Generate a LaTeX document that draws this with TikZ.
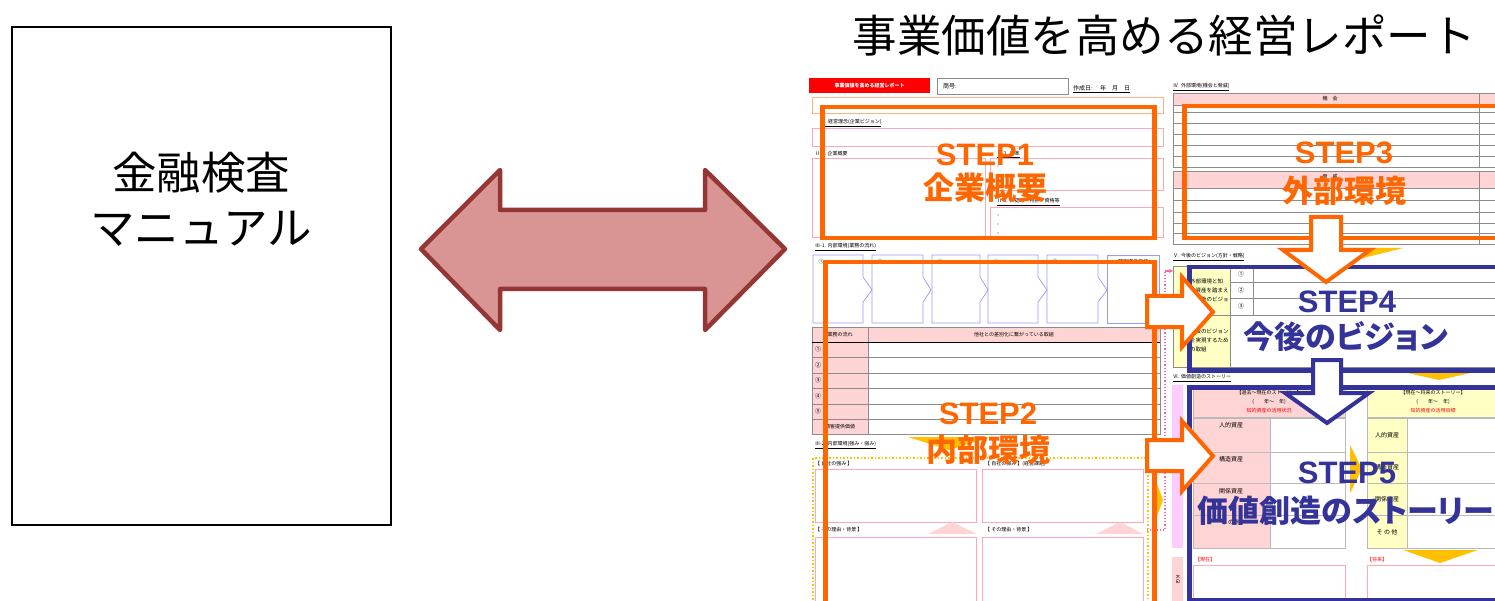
\documentclass[tikz,border=0pt]{standalone}
\usepackage{fontspec}
\setmainfont{Liberation Sans}
\newfontfamily\jp{Noto Sans CJK JP}
\newfontfamily\jpp[RawFeature=+palt]{Noto Sans CJK JP}
\usetikzlibrary{arrows.meta}
\definecolor{stepor}{HTML}{FF6600}
\definecolor{stepbl}{HTML}{333399}
\definecolor{arrfill}{HTML}{D99594}
\definecolor{arrline}{HTML}{943634}
\definecolor{pinkfill}{HTML}{FFD4D4}
\definecolor{pinkline}{HTML}{FFA6B8}
\definecolor{chev}{HTML}{9999FF}
\definecolor{gold}{HTML}{FFC000}
\definecolor{yelfill}{HTML}{FFFFC4}
\definecolor{magfill}{HTML}{FFCCFF}
\definecolor{grayline}{HTML}{8C8C8C}
\definecolor{dotpink}{HTML}{FF6699}
\tikzset{
  tiny/.style={font=\jp\fontsize{5}{6}\selectfont, inner sep=0pt},
  tinyw/.style={tiny, anchor=west},
  pbox/.style={draw=pinkline, line width=0.6pt},
  gline/.style={draw=grayline, line width=0.6pt},
  orbox/.style={draw=stepor, line width=4.5pt},
  blbox/.style={draw=stepbl, line width=4.5pt},
  orarrow/.style={fill=white, draw=stepor, line width=4pt, line join=miter},
  blarrow/.style={fill=white, draw=stepbl, line width=4pt, line join=miter},
  steplat/.style={font=\bfseries\fontsize{31}{34}\selectfont, inner sep=0pt},
  stepjp/.style={font=\jp\bfseries\fontsize{31}{34}\selectfont, inner sep=0pt},
  stepjpp/.style={font=\jpp\bfseries\fontsize{31}{34}\selectfont, inner sep=0pt},
  bigjp/.style={font=\jp\fontsize{44.5}{50}\selectfont, inner sep=0pt},
}
\begin{document}
\begin{tikzpicture}[x=1pt,y=-1pt]
\useasboundingbox (0,0) rectangle (1495,601);
\fill[white] (0,0) rectangle (1495,601);

% ---------- left box ----------
\node[draw=black, line width=1.6pt, minimum width=379pt, minimum height=498pt, inner sep=0pt] (fsa) at (201.5,276) {};
\node[bigjp] (fsa1) at (201,173) {金融検査};
\node[bigjp] (fsa2) at (201,229) {マニュアル};

% ---------- double arrow ----------
\draw[fill=arrfill, draw=arrline, line width=4.5pt, line join=round]
  (421,249) -- (500,170) -- (500,210) -- (705,210) -- (705,170) -- (785,249)
  -- (705,330) -- (705,289) -- (500,289) -- (500,330) -- cycle;

% ---------- title ----------
\node[bigjp] (title) at (1164,35) {事業価値を高める経営レポート};

% ---------- form (background) ----------
\begin{scope}
\clip (805,72) rectangle (1495,601);

% header
\node[fill=red, minimum width=121pt, minimum height=15pt, inner sep=0pt, anchor=north west] (redlab) at (809,78) {};
\node[tiny, text=white, font=\jp\bfseries\fontsize{5}{6}\selectfont] at (redlab.center) {事業価値を高める経営レポート};
\node[draw=grayline, line width=0.8pt, minimum width=131pt, minimum height=16pt, inner sep=0pt, anchor=north west] (shogo) at (937,78) {};
\node[tinyw, font=\jp\fontsize{6}{7}\selectfont] at (943,86) {商号:};
\node[tinyw, font=\jp\fontsize{6}{7}\selectfont] at (1073,89) {\underline{作成日:　\ 年　月　日}};

% section I / II
\draw[pbox, draw=stepor!50] (812,97) rectangle (1163,113);
\node[tinyw] at (820,123) {\underline{Ⅰ. 経営理念(企業ビジョン)}};
\draw[pbox] (812,128) rectangle (1163,146);
\node[tinyw] at (815,155) {\underline{Ⅱ-1. 企業概要}};
\node[tinyw] at (997,155) {\underline{Ⅱ-2. 沿革}};
\draw[pbox] (812,158) rectangle (985,237);
\draw[pbox] (990,158) rectangle (1163,190);
\node[tinyw] at (997,202) {\underline{Ⅱ-3. 許認可・特許・資格等}};
\draw[pbox] (990,207) rectangle (1163,237);
\foreach \yy in {166,176,186,215,224,233} \fill[black!70] (998,\yy) circle (0.7);

% section III-1
\node[tinyw] at (815,247) {\underline{Ⅲ-1. 内部環境(業務の流れ)}};
\foreach \xl/\xr/\xp/\lab in {813/863/872/①, 872/923/931/②, 932/980/988/③, 988/1038/1047/④, 1047/1098/1107/⑤}{
  \draw[draw=chev, line width=0.7pt] (\xl,255) -- (\xr,255) -- (\xr,277) -- (\xp,290) -- (\xr,302) -- (\xr,323) -- (\xl,323) -- cycle;
  \node[tiny] at (\xl+8,262) {\lab};
}
\draw[draw=chev, line width=0.7pt] (1107,255) rectangle (1159,323);
\node[tiny] at (1133,262) {顧客提供価値};

% table
\fill[pinkfill] (812,327) rectangle (1160,342);
\fill[pinkfill] (812,342) rectangle (868,434);
\draw[gline] (812,327) rectangle (1160,434);
\draw[gline] (868,327) -- (868,434);
\draw[black, line width=0.9pt] (812,342) -- (1160,342);
\foreach \yy in {357,373,388,404,419} \draw[gline] (812,\yy) -- (1160,\yy);
\node[tiny] at (840,335) {業務の流れ};
\node[tiny] at (1014,335) {他社との差別化に繋がっている取組};
\foreach \yy/\lab in {349.5/①, 365/②, 380.5/③, 396/④, 411.5/⑤}
  \node[tiny, font=\jp\fontsize{6}{7}\selectfont] at (818,\yy) {\lab};
\node[tiny] at (840,427) {顧客提供価値};

\fill[gold] (908,437) -- (990,437) -- (949,450) -- cycle;

% section III-2
\node[tinyw] at (815,445) {\underline{Ⅲ-2. 内部環境(強み・弱み)}};
\draw[draw=gold, line width=1.5pt, dotted] (813,458) rectangle (1148,620);
\node[tinyw] at (815,464) {【 自社の強み 】};
\node[tinyw] at (985,464) {【 自社の弱み 】(経営課題)};
\draw[pbox] (815,469) rectangle (976,522);
\draw[pbox] (982,469) rectangle (1143,522);
\fill[pinkfill] (928,534) -- (952,522) -- (977,534) -- cycle;
\fill[pinkfill] (1096,534) -- (1120,522) -- (1143,534) -- cycle;
\node[tinyw] at (815,530) {【 その理由・背景 】};
\node[tinyw] at (985,530) {【 その理由・背景 】};
\draw[pbox] (815,537) rectangle (976,620);
\draw[pbox] (982,537) rectangle (1143,620);
\fill[gold] (1153,473) -- (1163,500) -- (1153,527) -- cycle;

\draw[draw=dotpink, line width=1.2pt, dotted] (1147,530) -- (1165,530) -- (1165,271);
\draw[draw=dotpink, line width=1.2pt, -{Stealth[length=4pt,width=4pt]}] (1165,271) -- (1173,271);

% section IV
\node[tinyw] at (1173,87) {\underline{Ⅳ. 外部環境(機会と脅威)}};
\fill[pinkfill] (1173,93) rectangle (1500,105);
\draw[gline] (1173,93) rectangle (1500,167);
\draw[gline] (1479,93) -- (1479,167);
\foreach \yy in {105,112,123,134,145,156} \draw[gline] (1173,\yy) -- (1500,\yy);
\node[tiny] at (1330,99) {機　会};
\fill[pinkfill] (1173,171) rectangle (1500,188);
\draw[gline] (1173,171) rectangle (1500,244);
\draw[gline] (1479,171) -- (1479,244);
\foreach \yy in {188,200,212,223,233} \draw[gline] (1173,\yy) -- (1500,\yy);
\node[tiny] at (1330,177) {脅　威};

\fill[gold] (1290,248) -- (1403,248) -- (1347,262) -- cycle;

% section V
\node[tinyw] at (1173,257) {\underline{Ⅴ. 今後のビジョン(方針・戦略)}};
\fill[yelfill] (1173,266) rectangle (1230,367);
\draw[gline] (1173,266) rectangle (1500,367);
\draw[gline] (1187,266) -- (1187,367);
\draw[gline] (1230,266) -- (1230,367);
\draw[gline] (1253,266) -- (1253,315);
\draw[gline] (1230,282) -- (1500,282);
\draw[gline] (1230,298) -- (1500,298);
\draw[gline] (1173,315) -- (1500,315);
\node[tiny, align=left, anchor=west, font=\jp\fontsize{5.5}{9}\selectfont] at (1190,290) {外部環境と知\\的資産を踏まえ\\た今後のビジョ};
\node[tiny, align=left, anchor=west, font=\jp\fontsize{5.5}{9}\selectfont] at (1190,340) {今後のビジョン\\を実現するため\\の取組};
\foreach \yy/\lab in {274/①, 290/②, 306/③}
  \node[tiny, font=\jp\fontsize{6}{7}\selectfont] at (1241,\yy) {\lab};

\fill[gold] (1403,372) -- (1475,372) -- (1439,380) -- cycle;

% section VI
\node[tinyw] at (1173,378) {\underline{Ⅵ. 価値創造のストーリー}};
\fill[magfill] (1172,385) rectangle (1183,548);
\draw[pbox, draw=grayline!60, fill=pinkfill] (1193,387) rectangle (1345,417);
\node[tiny] at (1269,393) {【過去～現在のストーリー】};
\node[tiny] at (1269,402) {(　　年～　年)};
\node[tiny, text=red] at (1269,411) {知的資産の活用状況};
\draw[pbox, draw=grayline!60, fill=yelfill] (1367,387) rectangle (1500,417);
\node[tiny] at (1433,393) {【現在～将来のストーリー】};
\node[tiny] at (1433,402) {(　　年～　年)};
\node[tiny, text=red] at (1433,411) {知的資産の活用目標};
\fill[pinkfill] (1193,418) rectangle (1270,548);
\draw[draw=grayline!60, line width=0.6pt] (1193,418) rectangle (1345,548);
\draw[draw=grayline!60, line width=0.6pt] (1270,418) -- (1270,548);
\foreach \yy in {452,483,515} \draw[draw=grayline!60, line width=0.6pt] (1193,\yy) -- (1345,\yy);
\node[tiny, font=\jp\fontsize{6}{7}\selectfont] at (1231,425) {人的資産};
\node[tiny, font=\jp\fontsize{6}{7}\selectfont] at (1231,459) {構造資産};
\node[tiny, font=\jp\fontsize{6}{7}\selectfont] at (1231,491) {関係資産};
\node[tiny, font=\jp\fontsize{6}{7}\selectfont] at (1231,522) {そ の 他};
\fill[gold] (1350,445) -- (1362,469) -- (1350,493) -- cycle;
\fill[yelfill] (1367,418) rectangle (1407,548);
\draw[draw=grayline!60, line width=0.6pt] (1367,418) rectangle (1500,548);
\draw[draw=grayline!60, line width=0.6pt] (1407,418) -- (1407,548);
\foreach \yy in {452,483,515} \draw[draw=grayline!60, line width=0.6pt] (1367,\yy) -- (1500,\yy);
\node[tiny, font=\jp\fontsize{6}{7}\selectfont] at (1387,435) {人的資産};
\node[tiny, font=\jp\fontsize{6}{7}\selectfont] at (1387,467) {構造資産};
\node[tiny, font=\jp\fontsize{6}{7}\selectfont] at (1387,499) {関係資産};
\node[tiny, font=\jp\fontsize{6}{7}\selectfont] at (1387,532) {そ の 他};
\fill[gold] (1403,550) -- (1478,550) -- (1440,563) -- cycle;
\node[tinyw, text=red] at (1195,560) {【現在】};
\node[tinyw, text=red] at (1367,560) {【将来】};
\draw[pbox] (1193,565) rectangle (1345,610);
\draw[pbox] (1367,565) rectangle (1500,610);
\fill[pinkfill] (1172,557) rectangle (1183,610);
\node[tiny, rotate=-90] at (1178,580) {KGI};

% ---------- STEP boxes ----------
\node[orbox, minimum width=332pt, minimum height=131pt, inner sep=0pt, anchor=north west] (s1) at (820,105) {};
\node[orbox, minimum width=329pt, minimum height=380pt, inner sep=0pt, anchor=north west] (s2) at (823,260) {};
\node[orbox, minimum width=340pt, minimum height=132pt, inner sep=0pt, anchor=north west] (s3) at (1182,104) {};
\node[blbox, minimum width=335pt, minimum height=103pt, inner sep=0pt, anchor=north west] (s4) at (1187,265) {};
\node[blbox, minimum width=335pt, minimum height=213pt, inner sep=0pt, anchor=north west] (s5) at (1187,385) {};

% ---------- block arrows ----------
\draw[orarrow] (1311,217) -- (1341,217) -- (1341,250) -- (1370,250) -- (1326,282) -- (1283,250) -- (1311,250) -- cycle;
\draw[blarrow] (1313,360) -- (1341,360) -- (1341,393) -- (1369,393) -- (1327,423) -- (1285,393) -- (1313,393) -- cycle;
\draw[orarrow] (1147,296) -- (1182,296) -- (1182,277) -- (1213,312) -- (1182,347) -- (1182,327) -- (1147,327) -- cycle;
\draw[orarrow] (1147,440) -- (1182,440) -- (1182,421) -- (1213,456) -- (1182,491) -- (1182,471) -- (1147,471) -- cycle;

% ---------- STEP labels ----------
\node[steplat, text=stepor] (t1a) at (985,155) {STEP1};
\node[stepjp, text=stepor] (t1b) at (985,188) {企業概要};
\node[steplat, text=stepor] (t2a) at (988,414) {STEP2};
\node[stepjp, text=stepor] (t2b) at (988,450) {内部環境};
\node[steplat, text=stepor] (t3a) at (1344,153) {STEP3};
\node[stepjp, text=stepor] (t3b) at (1344,191) {外部環境};
\node[steplat, text=stepbl] (t4a) at (1347,302) {STEP4};
\node[stepjpp, text=stepbl] (t4b) at (1346,337) {今後のビジョン};
\node[steplat, text=stepbl] (t5a) at (1347,473) {STEP5};
\node[stepjpp, text=stepbl] (t5b) at (1346,511) {価値創造のストーリー};
\end{scope}
\end{tikzpicture}
\end{document}
